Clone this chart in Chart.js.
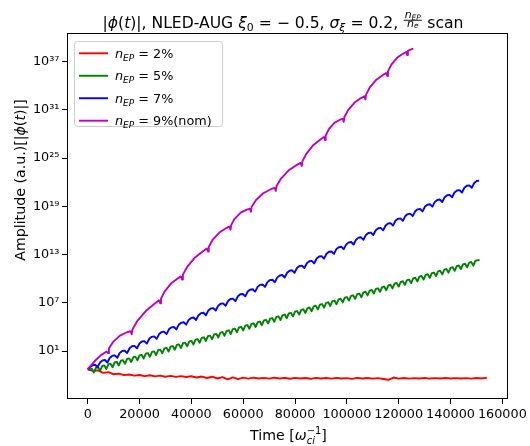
<!DOCTYPE html>
<html><head><meta charset="utf-8">
<script src="https://cdn.jsdelivr.net/npm/chart.js@4.4.1/dist/chart.umd.min.js"></script>
<style>html,body{margin:0;padding:0;background:#fff;}canvas{display:block;}</style>
</head><body>
<canvas id="c" width="530" height="446"></canvas>
<script>
// ---------------- data ----------------
const xTickValues = [0, 20000, 40000, 60000, 80000, 100000, 120000, 140000, 160000];
const xTickLabels = ['0', '20000', '40000', '60000', '80000', '100000', '120000', '140000', '160000'];
const yTickExponents = [1, 7, 13, 19, 25, 31, 37];
const yTickLabels = ['10\u00b9', '10\u2077', '10\u00b9\u00b3', '10\u00b9\u2079', '10\u00b2\u2075', '10\u00b3\u00b9', '10\u00b3\u2077'];
const legendValues = ['2%', '5%', '7%', '9%(nom)'];

// n_EP = 2%  : log10 amplitude, sampled every 2000 time units from t = 0
const redStep = 2000;
const redLog10 = [-1.25,-1.45,-1.40,-1.70,-1.62,-1.88,-1.80,-1.98,-1.90,-2.05,
  -1.96,-2.10,-2.00,-2.14,-2.05,-2.18,-2.08,-2.20,-2.10,-2.22,
  -2.12,-2.28,-2.16,-2.34,-2.18,-2.40,-2.22,-2.50,-2.26,-2.48,
  -2.30,-2.42,-2.30,-2.40,-2.32,-2.42,-2.30,-2.40,-2.33,-2.43,
  -2.32,-2.40,-2.34,-2.44,-2.32,-2.40,-2.34,-2.42,-2.33,-2.40,
  -2.35,-2.45,-2.32,-2.40,-2.34,-2.42,-2.36,-2.46,-2.56,-2.28,
  -2.42,-2.34,-2.42,-2.35,-2.40,-2.33,-2.41,-2.36,-2.40,-2.34,
  -2.41,-2.36,-2.40,-2.35,-2.42,-2.34,-2.38,-2.30];

// n_EP = 5%  : log10 amplitude, sampled every 800 time units
const greenStep = 800;
const greenLog10 = [-1.30,
  -1.28,-1.20,-1.65,-1.06,-0.99,-1.43,-0.84,-0.77,-1.22,-0.62,-0.55,-1.00,
  -0.41,-0.33,-0.78,-0.19,-0.12,-0.56,0.03,0.10,-0.35,0.25,0.32,-0.13,
  0.47,0.54,0.09,0.68,0.76,0.31,0.90,0.97,0.53,1.12,1.19,0.74,
  1.34,1.41,0.96,1.55,1.63,1.18,1.77,1.84,1.40,1.99,2.06,1.61,
  2.21,2.28,1.83,2.43,2.50,2.05,2.64,2.72,2.27,2.86,2.93,2.49,
  3.08,3.15,2.70,3.30,3.37,2.92,3.51,3.59,3.14,3.73,3.80,3.36,
  3.95,4.02,3.58,4.17,4.24,3.79,4.39,4.46,4.01,4.60,4.68,4.23,
  4.82,4.89,4.45,5.04,5.11,4.66,5.26,5.33,4.88,5.47,5.55,5.10,
  5.69,5.76,5.32,5.91,5.98,5.54,6.13,6.20,5.75,6.35,6.42,5.97,
  6.56,6.64,6.19,6.78,6.85,6.41,7.00,7.07,6.62,7.22,7.29,6.84,
  7.43,7.51,7.06,7.65,7.72,7.28,7.87,7.94,7.50,8.09,8.16,7.71,
  8.31,8.38,7.93,8.52,8.60,8.15,8.74,8.81,8.37,8.96,9.03,8.58,
  9.18,9.25,8.80,9.39,9.47,9.02,9.61,9.69,9.24,9.83,9.90,9.46,
  10.05,10.12,9.67,10.27,10.34,9.89,10.48,10.56,10.11,10.70,10.77,10.33,
  10.92,10.99,10.54,11.14,11.21,10.76,11.36,11.43,10.98,11.57,11.65,11.20,
  11.79,11.86,11.42,12.01,12.08,11.63,12.23,12.30,12.35];

// n_EP = 7%  : log10 amplitude, sampled every 950 time units
const blueStep = 950;
const blueLog10 = [-1.25,-0.98,-0.74,-0.69,-0.99,-0.40,-0.15,-0.10,-0.41,0.19,
  0.44,0.48,0.18,0.78,1.02,1.07,0.77,1.36,1.61,1.66,
  1.35,1.95,2.20,2.24,1.94,2.54,2.78,2.83,2.53,3.12,
  3.37,3.42,3.11,3.71,3.96,4.00,3.70,4.30,4.54,4.59,
  4.29,4.88,5.13,5.18,4.87,5.47,5.72,5.77,5.46,6.06,
  6.31,6.35,6.05,6.65,6.89,6.94,6.64,7.23,7.48,7.53,
  7.22,7.82,8.07,8.11,7.81,8.41,8.65,8.70,8.40,8.99,
  9.24,9.29,8.98,9.58,9.83,9.87,9.57,10.17,10.41,10.46,
  10.16,10.75,11.00,11.05,10.74,11.34,11.59,11.63,11.33,11.93,
  12.17,12.22,11.92,12.51,12.76,12.81,12.50,13.10,13.35,13.39,
  13.09,13.69,13.93,13.98,13.68,14.27,14.52,14.57,14.26,14.86,
  15.11,15.15,14.85,15.45,15.69,15.74,15.44,16.03,16.28,16.33,
  16.02,16.62,16.87,16.91,16.61,17.21,17.45,17.50,17.20,17.79,
  18.04,18.09,17.78,18.38,18.63,18.67,18.37,18.97,19.21,19.26,
  18.96,19.55,19.80,19.85,19.54,20.14,20.39,20.43,20.13,20.73,
  20.97,21.02,20.72,21.31,21.56,21.61,21.31,21.90,22.15,22.20];

// n_EP = 9% (nominal) : time and log10 amplitude
const magentaT = [0,2800,5100,7300,7900,
  8172,9712,12430,15148,16507,16960,
  17292,19172,22490,25808,27467,28020,
  28272,29700,32220,34740,36000,36420,
  36721,38424,41430,44436,45939,46440,
  46700,48174,50775,53376,54677,55110,
  55345,56676,59025,61374,62549,62940,
  63229,64866,67755,70644,72089,72570,
  72871,74574,77580,80586,82089,82590,
  82861,84394,87100,89806,91159,91610,
  91825,93044,95195,97346,98422,98780,
  99031,100452,102960,105468,106722,107140,
  107394,108836,111380,113924,115196,115620,
  115851,117162,119475,121788,122945,123330,
  123550,124500,125640];
const magentaLog10 = [-1.23,-0.20,0.50,0.95,0.75,
  1.32,2.12,2.93,3.35,3.48,3.10,
  3.72,4.77,6.02,6.89,7.32,6.94,
  7.53,8.43,9.43,10.04,10.29,9.91,
  10.51,11.50,12.65,13.41,13.76,13.38,
  13.96,14.82,15.74,16.28,16.48,16.10,
  16.67,17.45,18.22,18.60,18.71,18.33,
  18.91,19.75,20.63,21.13,21.31,20.93,
  21.52,22.45,23.48,24.12,24.40,24.02,
  24.62,25.56,26.63,27.32,27.62,27.24,
  27.81,28.59,29.37,29.77,29.88,29.50,
  30.08,30.96,31.90,32.46,32.68,32.30,
  32.89,33.78,34.75,35.34,35.58,35.20,
  35.78,36.62,37.50,38.00,38.18,37.80,
  38.30,38.48,38.60];

// ---------------- view ----------------
const X_MIN = -8000, X_MAX = 161600;
const Y_MIN = Math.pow(10, -4.95), Y_MAX = Math.pow(10, 40.55);
const FONT = '"DejaVu Sans"';
const colors = ['#ff0000', '#008000', '#0000ff', '#bf00bf'];

const onGrid = (arr, step) => arr.map((v, i) => ({x: i * step, y: Math.pow(10, v)}));
const redData = onGrid(redLog10, redStep);
const greenData = onGrid(greenLog10, greenStep);
const blueData = onGrid(blueLog10, blueStep);
const magentaData = magentaT.map((t, i) => ({x: t, y: Math.pow(10, magentaLog10[i])}));
const yTickValues = yTickExponents.map(e => Math.pow(10, e));

// ---------------- rich text helpers ----------------
function fontOf(s, it) { return (it ? 'italic ' : '') + s + 'px ' + FONT; }
function measureRuns(ctx, segs) {
  let x = 0, prevStart = 0, prevW = 0; const items = [];
  for (const g of segs) {
    let w;
    if (g.frac) {
      const n = measureRuns(ctx, g.num), d = measureRuns(ctx, g.den);
      w = Math.max(n.width, d.width) + 3;
    } else { ctx.font = fontOf(g.s, g.i); w = ctx.measureText(g.t).width; }
    let sx;
    if (g.stack) { sx = prevStart; const nw = Math.max(prevW, w); x = prevStart + nw; prevW = nw; }
    else { sx = x; x += w; prevStart = sx; prevW = w; }
    items.push({g, sx, w});
  }
  return {items, width: x};
}
function drawRuns(ctx, segs, x0, y0, align) {
  const L = measureRuns(ctx, segs);
  const start = align === 'center' ? x0 - L.width / 2 : x0;
  ctx.textAlign = 'left'; ctx.textBaseline = 'alphabetic';
  for (const it of L.items) {
    const g = it.g;
    if (g.frac) {
      const cx = start + it.sx + it.w / 2;
      drawRuns(ctx, g.num, cx, y0 + g.numDy, 'center');
      drawRuns(ctx, g.den, cx, y0 + g.denDy, 'center');
      ctx.fillRect(start + it.sx + 0.5, y0 + g.barDy, it.w - 1, 0.9);
    } else {
      ctx.font = fontOf(g.s, g.i);
      ctx.fillText(g.t, start + it.sx, y0 + (g.dy || 0));
    }
  }
  return L.width;
}

const decor = {
  id: 'decor',
  afterDatasetsDraw(chart) {
    const {ctx, chartArea: a} = chart;
    ctx.save();
    ctx.strokeStyle = '#000'; ctx.lineWidth = 1;
    ctx.strokeRect(Math.round(a.left) + 0.5, Math.round(a.top) + 0.5,
                   Math.round(a.right - a.left), Math.round(a.bottom - a.top) - 1);
    ctx.restore();
  },
  afterDraw(chart) {
    const {ctx} = chart;
    ctx.save();
    ctx.fillStyle = '#000';
    // title
    const S = 15.6;
    drawRuns(ctx, [
      {t: '|', s: S}, {t: '\u03d5', s: S, i: 1}, {t: '(', s: S}, {t: 't', s: S, i: 1},
      {t: ')|, NLED-AUG ', s: S},
      {t: '\u03be', s: S, i: 1}, {t: '0', s: S * 0.7, dy: S * 0.22},
      {t: ' = \u2212 0.5, ', s: S},
      {t: '\u03c3', s: S, i: 1}, {t: '\u03be', s: S * 0.7, i: 1, dy: S * 0.22},
      {t: ' = 0.2, ', s: S},
      {frac: 1, num: [{t: 'n', s: 11, i: 1}, {t: 'EP', s: 7.5, i: 1, dy: 1.6}],
                den: [{t: 'n', s: 11, i: 1}, {t: 'e', s: 7.5, i: 1, dy: 1.6}],
       numDy: -10, denDy: -1.4, barDy: -8.2},
      {t: ' scan', s: S}
    ], 283, 28, 'center');

    // x axis title
    const T = 12.8, LBL = 14.2;
    drawRuns(ctx, [
      {t: 'Time [', s: LBL}, {t: '\u03c9', s: LBL, i: 1},
      {t: 'ci', s: LBL * 0.7, i: 1, dy: LBL * 0.28},
      {t: '\u22121', s: LBL * 0.7, dy: -LBL * 0.45, stack: 1},
      {t: ']', s: LBL}
    ], 288.5, 440, 'center');

    // y axis title (rotated)
    ctx.save();
    ctx.translate(25, 180);
    ctx.rotate(-Math.PI / 2);
    drawRuns(ctx, [
      {t: 'Amplitude (a.u.)[|', s: LBL}, {t: '\u03d5', s: LBL, i: 1}, {t: '(', s: LBL},
      {t: 't', s: LBL, i: 1}, {t: ')|]', s: LBL}
    ], 0, 0, 'center');
    ctx.restore();

    // legend
    const bx = 74.5, by = 41.5, bw = 148, bh = 85, r = 3;
    ctx.beginPath();
    ctx.moveTo(bx + r, by); ctx.lineTo(bx + bw - r, by); ctx.quadraticCurveTo(bx + bw, by, bx + bw, by + r);
    ctx.lineTo(bx + bw, by + bh - r); ctx.quadraticCurveTo(bx + bw, by + bh, bx + bw - r, by + bh);
    ctx.lineTo(bx + r, by + bh); ctx.quadraticCurveTo(bx, by + bh, bx, by + bh - r);
    ctx.lineTo(bx, by + r); ctx.quadraticCurveTo(bx, by, bx + r, by);
    ctx.closePath();
    ctx.fillStyle = 'rgba(255,255,255,0.8)'; ctx.fill();
    ctx.strokeStyle = '#cccccc'; ctx.lineWidth = 1; ctx.stroke();
    for (let k = 0; k < legendValues.length; k++) {
      const ry = 53.3 + k * 22.47;
      ctx.strokeStyle = colors[k]; ctx.lineWidth = 1.9;
      ctx.beginPath(); ctx.moveTo(79, ry); ctx.lineTo(108, ry); ctx.stroke();
      ctx.fillStyle = '#000';
      drawRuns(ctx, [
        {t: 'n', s: T, i: 1}, {t: 'EP', s: T * 0.7, i: 1, dy: T * 0.22},
        {t: ' = ' + legendValues[k], s: T}
      ], 115, ry + 4.6, 'left');
    }
    ctx.restore();
  }
};

Chart.defaults.color = '#000';
Chart.defaults.font.family = FONT;

const lineStyle = (data, color, order) => ({
  data, borderColor: color, backgroundColor: color, borderWidth: 1.9,
  pointRadius: 0, fill: false, tension: 0, order,
  borderJoinStyle: 'round', borderCapStyle: 'butt'
});

new Chart(document.getElementById('c').getContext('2d'), {
  type: 'line',
  data: {datasets: [
    lineStyle(redData, colors[0], 3),
    lineStyle(greenData, colors[1], 2),
    lineStyle(blueData, colors[2], 1),
    lineStyle(magentaData, colors[3], 0)
  ]},
  options: {
    responsive: false, animation: false, devicePixelRatio: 1,
    layout: {padding: {left: 0, top: 33, right: 23, bottom: 0}},
    plugins: {legend: {display: false}, title: {display: false}, tooltip: {enabled: false}},
    scales: {
      x: {
        type: 'linear', min: X_MIN, max: X_MAX, bounds: 'data',
        afterBuildTicks: s => { s.ticks = xTickValues.map(v => ({value: v})); },
        afterFit: s => { s.height = 47; },
        ticks: {autoSkip: false, maxRotation: 0, minRotation: 0, padding: 3, color: '#000',
                font: {family: FONT, size: 12.8}, callback: (v, i) => xTickLabels[i]},
        grid: {drawOnChartArea: false, drawTicks: true, tickLength: 5, color: '#000', lineWidth: 1},
        border: {display: false}
      },
      y: {
        type: 'logarithmic', min: Y_MIN, max: Y_MAX,
        afterBuildTicks: s => { s.ticks = yTickValues.map(v => ({value: v})); },
        afterFit: s => { s.width = 67; },
        ticks: {autoSkip: false, padding: 2.5, color: '#000',
                font: {family: FONT, size: 12.8}, callback: (v, i) => yTickLabels[i]},
        grid: {drawOnChartArea: false, drawTicks: true, tickLength: 5, color: '#000', lineWidth: 1},
        border: {display: false}
      }
    }
  },
  plugins: [decor]
});
</script>
</body></html>
